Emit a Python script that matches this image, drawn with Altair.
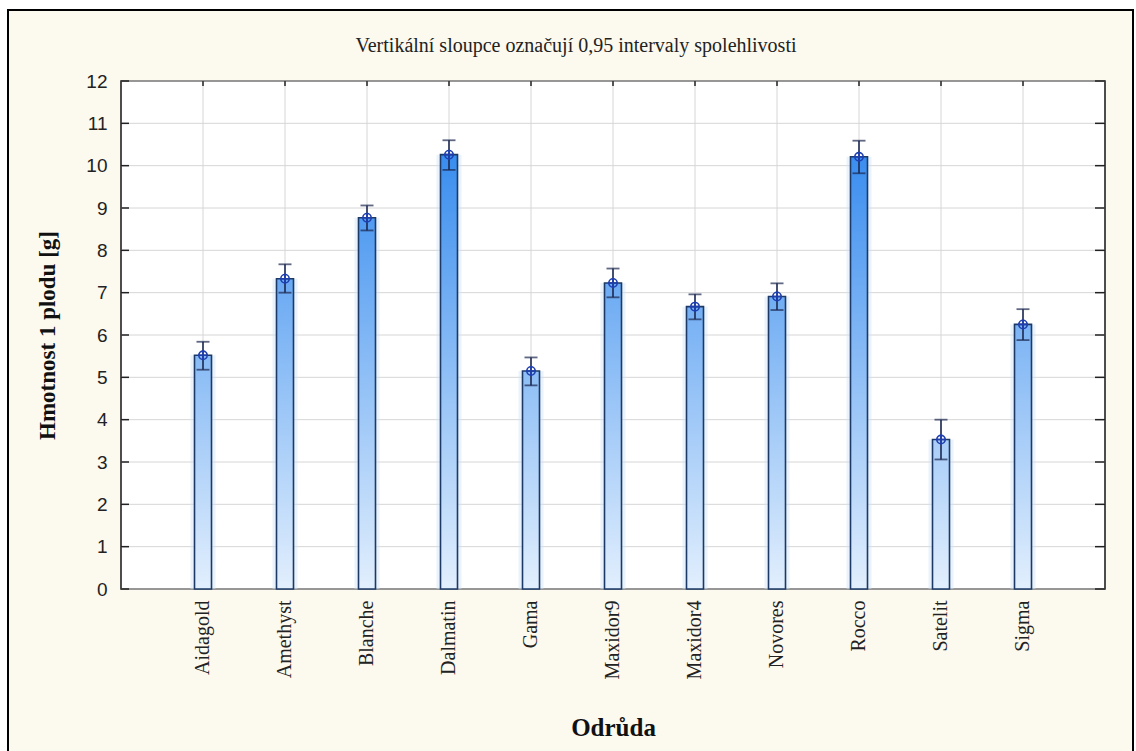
import altair as alt
import pandas as pd

# Fruit weight per cultivar: group means with 0.95 confidence limits
odrudy = ["Aidagold", "Amethyst", "Blanche", "Dalmatin", "Gama", "Maxidor9",
          "Maxidor4", "Novores", "Rocco", "Satelit", "Sigma"]
prumer = [5.52, 7.33, 8.77, 10.26, 5.15, 7.23, 6.67, 6.91, 10.21, 3.53, 6.25]
horni = [5.84, 7.67, 9.06, 10.60, 5.47, 7.57, 6.96, 7.22, 10.59, 4.00, 6.61]
dolni = [5.18, 7.00, 8.47, 9.90, 4.81, 6.89, 6.37, 6.59, 9.82, 3.06, 5.88]
y_hodnoty = list(range(0, 13))

nadpis = "Vertikální sloupce označují 0,95 intervaly spolehlivosti"

W, H = 984, 508
CREAM = "#fcf9ef"
SERIF = "Liberation Serif"
SANS = "Liberation Sans"

df = pd.DataFrame({"odruda": odrudy, "prumer": prumer, "horni": horni, "dolni": dolni})
df_y = pd.DataFrame({"v": y_hodnoty})
df_x = pd.DataFrame({"odruda": odrudy})
one = pd.DataFrame({"t": [nadpis]})

x_axis = alt.Axis(title="Odrůda", labelAngle=-90, labelFont=SERIF, labelFontSize=20,
                  labelColor="#222222", labelPadding=11, ticks=False, domain=False,
                  grid=False, titleFont=SERIF, titleFontSize=25, titleFontWeight="bold",
                  titleColor="#111111", titleY=138, titleBaseline="middle", zindex=2)
y_axis = alt.Axis(title="Hmotnost 1 plodu [g]", values=y_hodnoty, labelFont=SANS,
                  labelFontSize=19, labelColor="#222222", labelPadding=14, ticks=False,
                  domain=False, grid=False, titleFont=SERIF, titleFontSize=23,
                  titleFontWeight="bold", titleColor="#111111", titleX=-74,
                  titleY=H / 2, titleAlign="center", titleBaseline="middle", zindex=2)

x_scale = alt.Scale(type="band", paddingInner=0, paddingOuter=0.5)
y_scale = alt.Scale(domain=[0, 12], nice=False, zero=True)


def xe():
    return alt.X("odruda:N", sort=odrudy, scale=x_scale, axis=x_axis)


def ye(field):
    return alt.Y(f"{field}:Q", scale=y_scale, axis=y_axis)


def blue(v):
    # colour of the bar fill at height v
    lo = (226, 239, 253)
    hi = (28, 124, 236)
    t = max(0.0, min(1.0, v / 12))
    return "#%02x%02x%02x" % tuple(round(a + (b - a) * t) for a, b in zip(lo, hi))


# Outer cream panel and the white plot area
frame = alt.Chart(one).mark_rect(fill=CREAM, stroke="#000000", strokeWidth=2).encode(
    x=alt.value(-113), x2=alt.value(1012), y=alt.value(-71), y2=alt.value(700))
plot_bg = alt.Chart(one).mark_rect(fill="#ffffff", stroke="#222222", strokeWidth=1.6).encode(
    x=alt.value(0), x2=alt.value(W), y=alt.value(0), y2=alt.value(H))

grid_y = alt.Chart(df_y).mark_rule(color="#d6d6d6", strokeWidth=1).encode(
    y=ye("v"), x=alt.value(0), x2=alt.value(W))
grid_x = alt.Chart(df_x).mark_rule(color="#d6d6d6", strokeWidth=1).encode(
    x=xe(), y=alt.value(0), y2=alt.value(H))

# Inward ticks on all four sides
tick_l = alt.Chart(df_y).mark_rule(color="#222222", strokeWidth=1.5).encode(
    y=ye("v"), x=alt.value(0), x2=alt.value(8))
tick_r = alt.Chart(df_y).mark_rule(color="#222222", strokeWidth=1.5).encode(
    y=ye("v"), x=alt.value(W - 10), x2=alt.value(W))
tick_t = alt.Chart(df_x).mark_rule(color="#222222", strokeWidth=1.5).encode(
    x=xe(), y=alt.value(0), y2=alt.value(5))
tick_b = alt.Chart(df_x).mark_rule(color="#222222", strokeWidth=1.5).encode(
    x=xe(), y=alt.value(H - 4), y2=alt.value(H))

halo = alt.Chart(df).mark_bar(size=25, color="#cfe2fb", opacity=0.45).encode(
    x=xe(), y=ye("prumer"))

bars = []
for name, val in zip(odrudy, prumer):
    grad = alt.Gradient(gradient="linear", x1=0, x2=0, y1=0, y2=1,
                        stops=[alt.GradientStop(color=blue(val), offset=0),
                               alt.GradientStop(color=blue(0), offset=1)])
    bars.append(
        alt.Chart(df).transform_filter(alt.datum.odruda == name)
        .mark_bar(size=17, fill=grad, stroke="#1d3a66", strokeWidth=1.6)
        .encode(x=xe(), y=ye("prumer"))
    )

whisker = alt.Chart(df).mark_rule(color="#1c2850", strokeWidth=1.6).encode(
    x=xe(), y=ye("dolni"), y2="horni:Q")
cap_hi = alt.Chart(df).mark_tick(color="#1c2850", size=13, thickness=1.8).encode(
    x=xe(), y=ye("horni"))
cap_lo = alt.Chart(df).mark_tick(color="#1c2850", size=13, thickness=1.8).encode(
    x=xe(), y=ye("dolni"))
ring = alt.Chart(df).mark_point(shape="circle", filled=False, size=70, color="#1f3fae",
                                strokeWidth=1.6, opacity=1).encode(x=xe(), y=ye("prumer"))
plus = alt.Chart(df).mark_point(shape="M-1,0L1,0M0,-1L0,1", filled=False, size=100,
                                color="#1f3fae", strokeWidth=1.6, opacity=1).encode(
    x=xe(), y=ye("prumer"))

title = alt.Chart(one).mark_text(font=SERIF, fontSize=20, color="#222222",
                                 baseline="middle", align="center").encode(
    text="t:N", x=alt.value(455), y=alt.value(-35))

chart = alt.layer(
    frame, plot_bg, grid_y, grid_x, tick_l, tick_r, tick_t, tick_b, halo,
    *bars, whisker, cap_hi, cap_lo, ring, plus, title
).properties(
    width=W, height=H,
    autosize=alt.AutoSizeParams(type="none"),
    padding={"left": 121, "top": 81, "right": 31, "bottom": 162},
    background="#ffffff",
).configure_view(stroke=None)

chart.save("out.html", embed_options={"renderer": "svg", "actions": False})
